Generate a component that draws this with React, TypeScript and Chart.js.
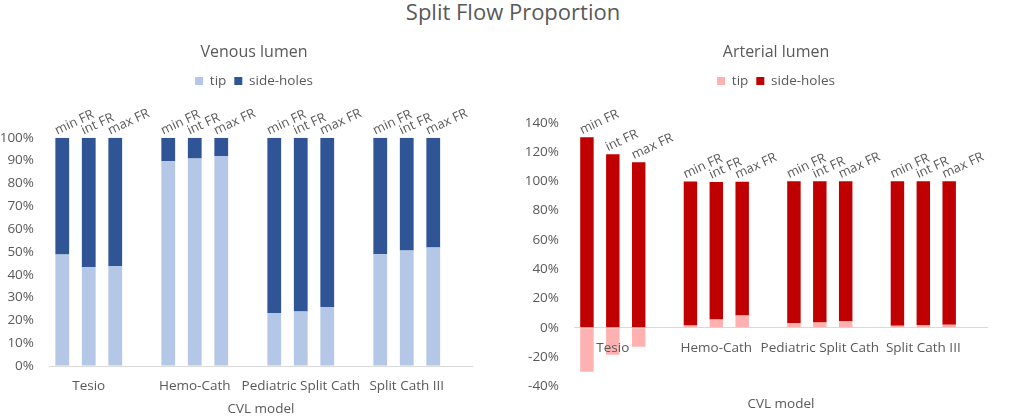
import React, { useEffect, useRef } from 'react';
import { Chart, registerables } from 'chart.js';

Chart.register(...registerables);

// CVL models, each one measured at three flow rates
const models = ['Tesio', 'Hemo-Cath', 'Pediatric Split Cath', 'Split Cath III'];
const flowRates = ['min FR', 'int FR', 'max FR'];

// venous lumen, % of flow (min, int, max FR per model)
const venousTip = [48.8, 43.2, 43.8, 89.7, 90.9, 92.0, 23.2, 23.9, 25.8, 49.0, 50.6, 51.9];
const venousSideHoles = [51.2, 56.8, 56.2, 10.3, 9.1, 8.0, 76.8, 76.1, 74.2, 51.0, 49.4, 48.1];

// arterial lumen, % of flow (tip is negative for Tesio = reverse flow)
const arterialTip = [-30, -18.5, -13, 1.6, 5.6, 8.4, 3.2, 3.6, 4.5, 1.4, 1.8, 2.0];
const arterialSideHoles = [130, 118.5, 113, 98.2, 93.9, 91.2, 96.8, 96.4, 95.5, 98.6, 98.2, 98.0];

// y axis ranges [min, max, step]
const venousAxis = [0, 100, 10];
const arterialAxis = [-40, 140, 20];

const TEXT = '#595959';
const FONT = '"Open Sans", "Liberation Sans", sans-serif';

// 3 bars per model + one empty slot as a gap
const slotLabels = models.flatMap(m => [...flowRates.map(f => `${m} ${f}`), '']);
function toSlots(values: number[]) {
    const out: (number | null)[] = [];
    models.forEach((_, m) => {
        out.push(values[m * 3], values[m * 3 + 1], values[m * 3 + 2], null);
    });
    return out;
}

// FR labels above each bar + model names next to the zero line
const labelsPlugin = {
    id: 'cvlLabels',
    afterDatasetsDraw(chart: any) {
        const ctx = chart.ctx;
        const xs = chart.scales.x;
        const ys = chart.scales.y;
        const topMeta = chart.getDatasetMeta(1);
        ctx.save();
        ctx.fillStyle = TEXT;
        ctx.font = `13px ${FONT}`;
        topMeta.data.forEach((bar: any, i: number) => {
            const fr = i % 4;
            if (fr > 2 || chart.data.datasets[1].data[i] == null) return;
            const { x, y, width } = bar.getProps(['x', 'y', 'width'], true);
            ctx.save();
            ctx.translate(x - width / 2 + 2, y - 3);
            ctx.rotate(-25 * Math.PI / 180);
            ctx.textAlign = 'left';
            ctx.textBaseline = 'alphabetic';
            ctx.fillText(flowRates[fr], 0, 0);
            ctx.restore();
        });
        const zeroY = ys.getPixelForValue(0);
        ctx.font = `13.5px ${FONT}`;
        ctx.textAlign = 'center';
        ctx.textBaseline = 'middle';
        models.forEach((m, k) => ctx.fillText(m, xs.getPixelForValue(k * 4 + 1), zeroY + 20));
        ctx.restore();
    }
};

interface PanelProps {
    title: string;
    tip: number[];
    sideHoles: number[];
    tipColor: string;
    sideColor: string;
    axis: number[];
    left: number;
    width: number;
    yWidth: number;
    padWidth: number;
    topGap: number;
    xHeight: number;
    xTitlePad: number;
}

const LumenChart: React.FC<PanelProps> = (p) => {
    const canvasRef = useRef<HTMLCanvasElement | null>(null);

    useEffect(() => {
        const ctx = canvasRef.current?.getContext('2d');
        if (!ctx) return;
        const chart = new Chart(ctx, {
            type: 'bar',
            data: {
                labels: slotLabels,
                datasets: [
                    { label: 'tip', data: toSlots(p.tip), backgroundColor: p.tipColor, xAxisID: 'x', yAxisID: 'y' },
                    { label: 'side-holes', data: toSlots(p.sideHoles), backgroundColor: p.sideColor, xAxisID: 'x', yAxisID: 'y' }
                ]
            },
            options: {
                responsive: false,
                animation: false,
                layout: { padding: 0 },
                datasets: { bar: { barPercentage: 0.52, categoryPercentage: 1 } },
                plugins: {
                    title: {
                        display: true,
                        text: p.title,
                        color: TEXT,
                        font: { family: FONT, size: 16, weight: 'normal' },
                        padding: { top: 43, bottom: 4 }
                    },
                    legend: {
                        display: true,
                        labels: {
                            color: TEXT,
                            font: { family: FONT, size: 13.5 },
                            boxWidth: 8,
                            boxHeight: 8,
                            padding: 8
                        }
                    },
                    tooltip: { enabled: false }
                },
                scales: {
                    x: {
                        type: 'category',
                        stacked: true,
                        offset: true,
                        grid: { display: false },
                        border: { display: false },
                        ticks: { display: false },
                        title: {
                            display: true,
                            text: 'CVL model',
                            color: TEXT,
                            font: { family: FONT, size: 13.5, lineHeight: 1 },
                            padding: { top: 0, bottom: p.xTitlePad }
                        },
                        afterFit: (s: any) => { s.height = p.xHeight; }
                    },
                    y: {
                        stacked: true,
                        min: p.axis[0],
                        max: p.axis[1],
                        border: { display: false },
                        grid: {
                            drawTicks: false,
                            color: (c: any) => (c.tick && c.tick.value === 0 ? '#d9d9d9' : 'rgba(0,0,0,0)')
                        },
                        ticks: {
                            stepSize: p.axis[2],
                            padding: 15,
                            color: TEXT,
                            font: { family: FONT, size: 13.5 },
                            callback: (v: any) => `${v}%`
                        },
                        afterFit: (s: any) => { s.width = p.yWidth; }
                    },
                    xTop: {
                        type: 'linear',
                        position: 'top',
                        display: true,
                        grid: { display: false },
                        border: { display: false },
                        ticks: { display: false },
                        afterFit: (s: any) => { s.height = p.topGap; }
                    },
                    yPad: {
                        type: 'linear',
                        position: 'right',
                        display: true,
                        grid: { display: false },
                        border: { display: false },
                        ticks: { display: false },
                        afterFit: (s: any) => { s.width = p.padWidth; }
                    }
                }
            } as any,
            plugins: [labelsPlugin]
        });
        return () => chart.destroy();
    }, [p]);

    return (
        <canvas
            ref={canvasRef}
            width={p.width}
            height={416}
            style={{ position: 'absolute', left: p.left, top: 0, width: p.width, height: 416 }}
        />
    );
};

const venousProps: PanelProps = {
    title: 'Venous lumen', tip: venousTip, sideHoles: venousSideHoles,
    tipColor: '#b4c7e7', sideColor: '#2f5597', axis: venousAxis,
    left: 0, width: 508, yWidth: 49, padWidth: 35, topGap: 40, xHeight: 50, xTitlePad: 0
};

const arterialProps: PanelProps = {
    title: 'Arterial lumen', tip: arterialTip, sideHoles: arterialSideHoles,
    tipColor: '#ffb1b1', sideColor: '#c00000', axis: arterialAxis,
    left: 520, width: 512, yWidth: 54, padWidth: 44, topGap: 25, xHeight: 29.7, xTitlePad: 5.5
};

const App: React.FC = () => {
    return (
        <div style={{ position: 'absolute', left: 0, top: 0, width: 1013, height: 416, overflow: 'hidden', background: '#fff' }}>
            <div style={{
                position: 'absolute', left: 0, top: 0, width: 1026, textAlign: 'center',
                fontFamily: FONT, fontSize: 22, lineHeight: '23px', color: TEXT
            }}>
                Split Flow Proportion
            </div>
            <LumenChart {...venousProps} />
            <LumenChart {...arterialProps} />
        </div>
    );
};

export default App;
